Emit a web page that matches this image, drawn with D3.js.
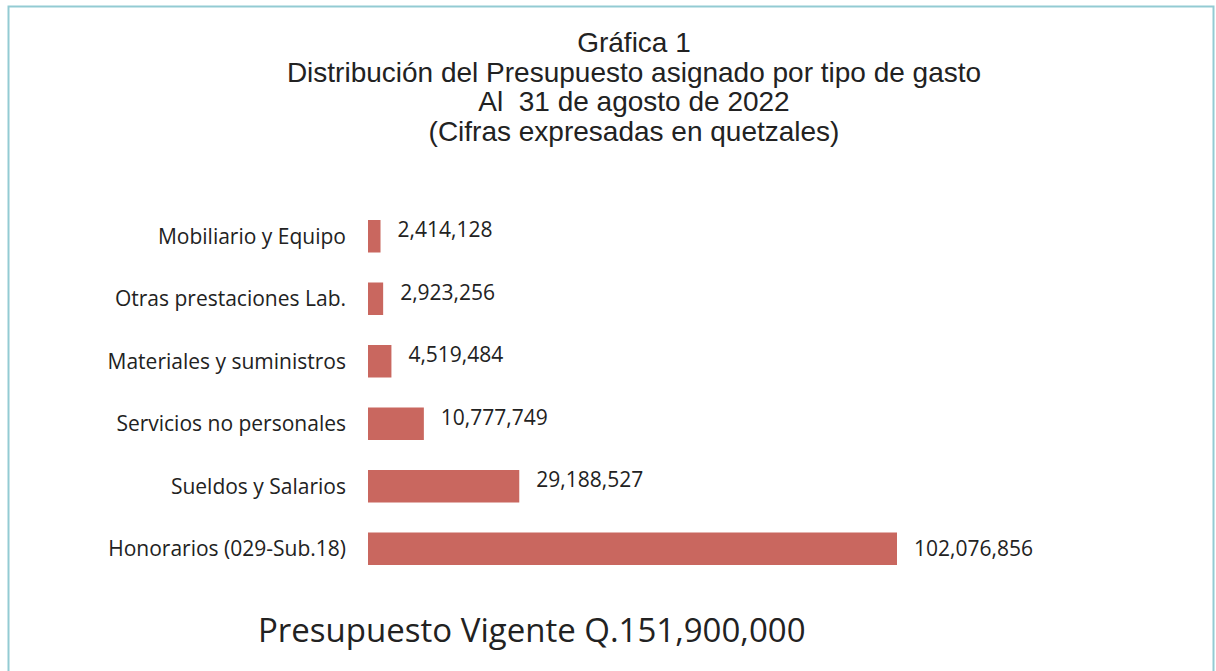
<!DOCTYPE html>
<html>
<head>
<meta charset="utf-8">
<script src="https://cdn.jsdelivr.net/npm/d3@7"></script>
<style>
  html, body { margin: 0; padding: 0; background: #fff; }
</style>
</head>
<body>
<svg id="chart" width="1216" height="671"></svg>
<script>
(function () {
    // data
    const categories = [
        'Mobiliario y Equipo',
        'Otras prestaciones Lab.',
        'Materiales y suministros',
        'Servicios no personales',
        'Sueldos y Salarios',
        'Honorarios (029-Sub.18)'
    ];
    const values = [2414128, 2923256, 4519484, 10777749, 29188527, 102076856];
    const titleLines = [
        'Gráfica 1',
        'Distribución del Presupuesto asignado por tipo de gasto',
        'Al  31 de agosto de 2022',
        '(Cifras expresadas en quetzales)'
    ];
    const footer = 'Presupuesto Vigente Q.151,900,000';

    const svg = d3.select("#chart");

    // frame
    svg.append("rect")
        .attr("x", 8.5).attr("y", 6.5)
        .attr("width", 1205).attr("height", 700)
        .attr("fill", "none")
        .attr("stroke", "#93cbd3")
        .attr("stroke-width", 2);

    // title block
    svg.selectAll("text.title")
        .data(titleLines)
        .join("text")
        .attr("class", "title")
        .attr("x", 634)
        .attr("y", (d, i) => 42 + i * 29.7)
        .attr("dy", "0.35em")
        .attr("text-anchor", "middle")
        .attr("font-family", "Liberation Sans, Arial, sans-serif")
        .attr("font-size", "28px")
        .attr("fill", "#222")
        .style("white-space", "pre")
        .text(d => d);

    const x = d3.scaleLinear()
        .domain([0, 102076856])
        .range([368, 897]);
    const y = d3.scaleBand()
        .domain(categories)
        .range([205, 580])
        .paddingInner(0.48)
        .paddingOuter(0.24);

    const g = svg.append("g");

    g.selectAll("rect.bar")
        .data(values)
        .join("rect")
        .attr("class", "bar")
        .attr("x", x(0))
        .attr("y", (d, i) => y(categories[i]))
        .attr("width", d => x(d) - x(0))
        .attr("height", y.bandwidth())
        .attr("fill", "#c9675f");

    // category labels
    g.selectAll("text.cat")
        .data(categories)
        .join("text")
        .attr("class", "cat")
        .attr("x", 346)
        .attr("y", d => y(d) + y.bandwidth() / 2)
        .attr("dy", "0.35em")
        .attr("text-anchor", "end")
        .attr("font-family", "Open Sans, sans-serif")
        .attr("font-size", "21px")
        .attr("fill", "#222")
        .text(d => d);

    // value labels
    const fmt = d3.format(",");
    g.selectAll("text.val")
        .data(values)
        .join("text")
        .attr("class", "val")
        .attr("x", d => x(d) + 17)
        .attr("y", (d, i) => y(categories[i]) + (i === values.length - 1 ? y.bandwidth() / 2 : 10))
        .attr("dy", "0.35em")
        .attr("font-family", "Open Sans, sans-serif")
        .attr("font-size", "21px")
        .attr("fill", "#222")
        .text(d => fmt(d));

    svg.append("text")
        .attr("x", 258)
        .attr("y", 630)
        .attr("dy", "0.35em")
        .attr("font-family", "Open Sans, sans-serif")
        .attr("font-size", "33px")
        .attr("fill", "#222")
        .text(footer);
})();
</script>
</body>
</html>
